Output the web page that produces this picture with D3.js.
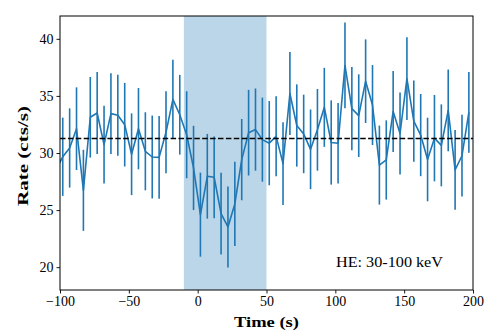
<!DOCTYPE html>
<html lang="en">
<head>
<meta charset="UTF-8">
<title>Light curve</title>
<style>
  body { margin: 0; background: #fff; }
  text { font-family: "Liberation Serif", "DejaVu Serif", serif; }
</style>
</head>
<body>
<script src="https://d3js.org/d3.v7.min.js"></script>
<script>
// bin centres (s); first bin falls left of the axis and is clipped
var times = d3.range(-103, 198, 5);
// count rate (cts/s) per bin
var rates = [28.5,
  29.67, 30.44, 32.13, 26.73, 33.13, 33.5, 30.73, 33.45, 33.3, 32.48,
  29.89, 32.13, 30.15, 29.65, 29.62, 31.81, 34.7, 33.35, 31.6, 28.69,
  24.6, 27.96, 27.87, 24.69, 23.52, 25.54, 29.42, 31.78, 32.05, 31.17,
  30.86, 31.46, 29.07, 35.21, 32.41, 31.67, 30.32, 32.03, 34.0, 30.92,
  30.85, 37.67, 33.89, 33.27, 36.29, 34.2, 28.94, 29.39, 33.64, 31.71,
  36.51, 32.79, 31.57, 29.43, 31.3, 30.67, 33.73, 28.52, 29.76, 33.56];
// 1-sigma errors
var errors = [3.5,
  3.43, 3.47, 3.62, 3.55, 3.53, 3.59, 3.40, 3.53, 3.55, 3.66,
  3.58, 3.56, 3.42, 3.63, 3.63, 3.59, 3.47, 3.49, 3.81, 3.69,
  3.68, 3.71, 3.58, 3.59, 3.55, 3.69, 3.56, 3.75, 3.60, 3.68,
  3.69, 3.50, 3.62, 3.63, 3.60, 3.44, 3.49, 3.58, 3.46, 3.69,
  3.53, 3.75, 3.65, 3.62, 3.66, 3.50, 3.46, 3.47, 3.55, 3.60,
  3.62, 3.55, 3.60, 3.66, 3.78, 3.59, 3.58, 3.50, 3.58, 3.53];
var background = 31.27;           // mean level
var window_ = [-10, 50];          // highlighted interval
var xTicks = [-100, -50, 0, 50, 100, 150, 200];
var yTicks = [20, 25, 30, 35, 40];
var label = "HE: 30-100 keV";

var data = times.map(function(t, i){ return {t: t, r: rates[i], e: errors[i]}; });

var W = 498, H = 332;
var m = {left: 60, right: 25, top: 16, bottom: 42};

var svg = d3.select("body").append("svg").attr("width", W).attr("height", H);

var x = d3.scaleLinear().domain([-100, 200]).range([m.left, W - m.right]);
var y = d3.scaleLinear().domain([18, 42]).range([H - m.bottom, m.top]);

svg.append("clipPath").attr("id", "clip")
  .append("rect")
  .attr("x", m.left).attr("y", m.top)
  .attr("width", W - m.left - m.right).attr("height", H - m.top - m.bottom);

var plot = svg.append("g").attr("clip-path", "url(#clip)");

// shaded window
plot.append("rect")
  .attr("x", x(window_[0])).attr("y", m.top)
  .attr("width", x(window_[1]) - x(window_[0]))
  .attr("height", H - m.top - m.bottom)
  .attr("fill", "#1f77b4").attr("fill-opacity", 0.3);

// error bars
plot.selectAll("line.err").data(data).enter().append("line")
  .attr("class", "err")
  .attr("x1", function(d){ return x(d.t); })
  .attr("x2", function(d){ return x(d.t); })
  .attr("y1", function(d){ return y(d.r - d.e); })
  .attr("y2", function(d){ return y(d.r + d.e); })
  .attr("stroke", "#1f77b4").attr("stroke-width", 1.6);

// light curve
var line = d3.line().x(function(d){ return x(d.t); }).y(function(d){ return y(d.r); });
plot.append("path").datum(data)
  .attr("d", line)
  .attr("fill", "none").attr("stroke", "#1f77b4")
  .attr("stroke-width", 1.6).attr("stroke-linejoin", "round");

// mean level
plot.append("line")
  .attr("x1", m.left).attr("x2", W - m.right)
  .attr("y1", y(background)).attr("y2", y(background))
  .attr("stroke", "#000").attr("stroke-width", 1.7)
  .attr("stroke-dasharray", "5.5,2.4");

// axes
var xAxis = svg.append("g").attr("transform", "translate(0," + (H - m.bottom) + ")")
  .call(d3.axisBottom(x).tickValues(xTicks).tickSizeInner(3.5).tickSizeOuter(0).tickPadding(3));
var yAxis = svg.append("g").attr("transform", "translate(" + m.left + ",0)")
  .call(d3.axisLeft(y).tickValues(yTicks).tickSizeInner(3.5).tickSizeOuter(0).tickPadding(3));

[xAxis, yAxis].forEach(function(g){
  g.select(".domain").remove();
  g.selectAll(".tick line").attr("stroke", "#000").attr("stroke-width", 0.9);
  g.selectAll(".tick text").attr("font-size", 14).attr("fill", "#000")
    .style("font-family", "'Liberation Serif', serif");
});

// frame
svg.append("rect")
  .attr("x", m.left).attr("y", m.top)
  .attr("width", W - m.left - m.right).attr("height", H - m.top - m.bottom)
  .attr("fill", "none").attr("stroke", "#000").attr("stroke-width", 1);

// labels
svg.append("text")
  .attr("x", (m.left + W - m.right) / 2).attr("y", 327)
  .attr("text-anchor", "middle").attr("font-size", 15).attr("font-weight", "bold")
  .attr("textLength", 65).attr("lengthAdjust", "spacingAndGlyphs")
  .text("Time (s)");

svg.append("text")
  .attr("transform", "translate(28,156) rotate(-90)")
  .attr("text-anchor", "middle").attr("font-size", 15).attr("font-weight", "bold")
  .attr("textLength", 100).attr("lengthAdjust", "spacingAndGlyphs")
  .text("Rate (cts/s)");

svg.append("text")
  .attr("x", 336).attr("y", 267)
  .attr("font-size", 15)
  .attr("textLength", 107).attr("lengthAdjust", "spacingAndGlyphs")
  .text(label);
</script>
</body>
</html>
